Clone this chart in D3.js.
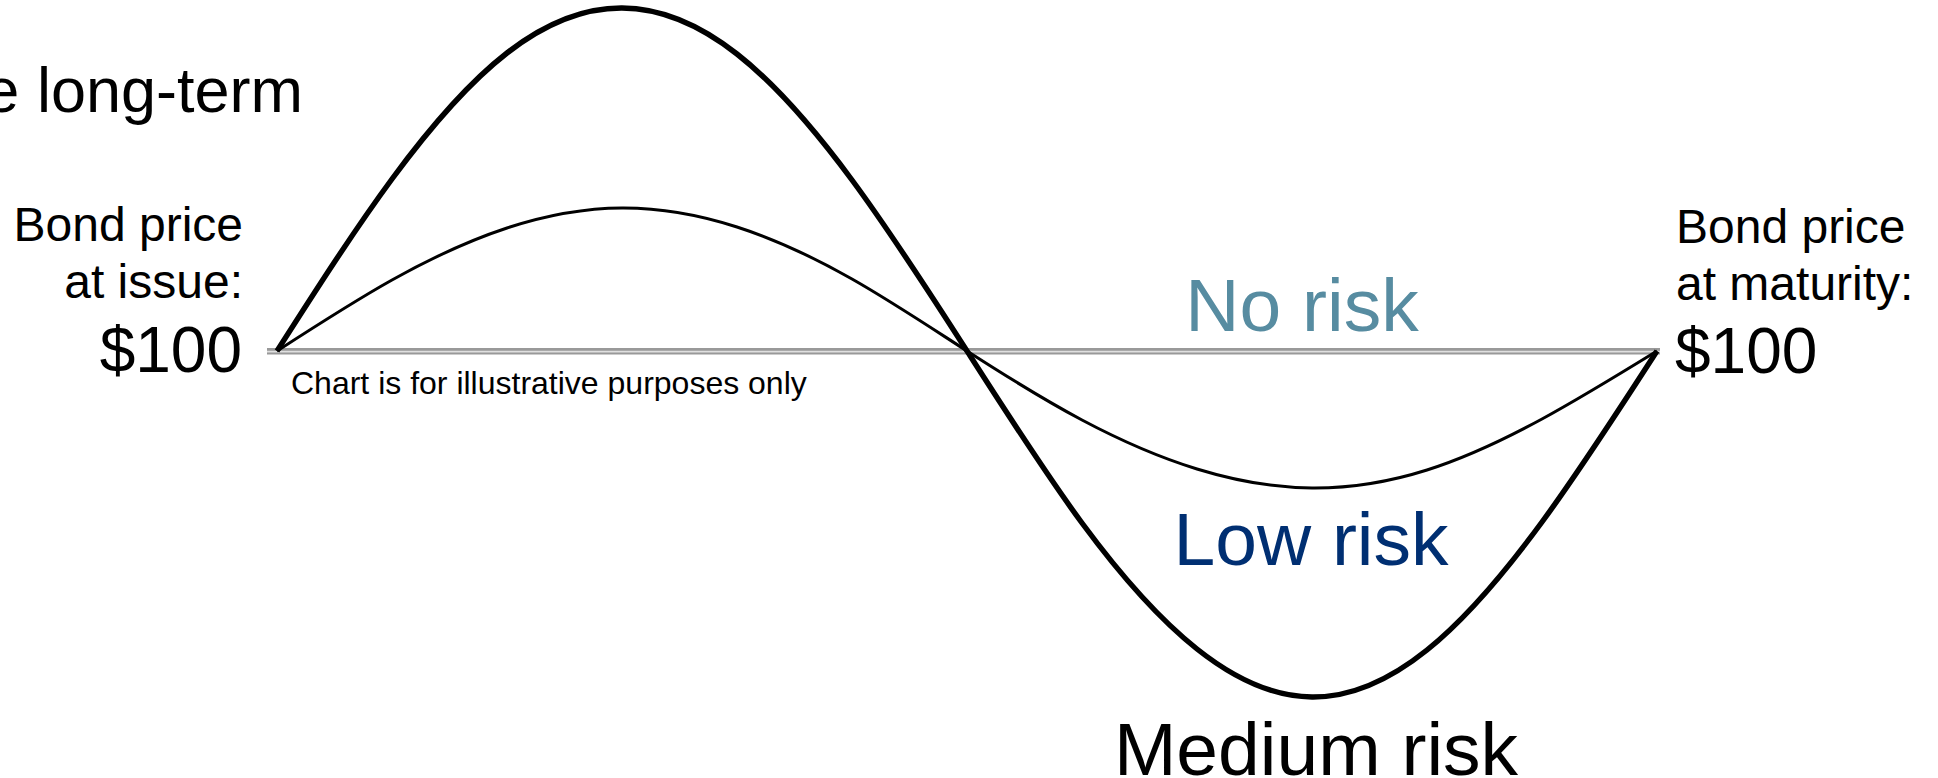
<!DOCTYPE html>
<html>
<head>
<meta charset="utf-8">
<script src="https://cdn.jsdelivr.net/npm/d3@7/dist/d3.min.js"></script>
<style>
  html, body { margin: 0; padding: 0; background: #ffffff; overflow: hidden; }
  svg { display: block; font-family: "Liberation Sans", Arial, Helvetica, sans-serif; }
</style>
</head>
<body>
<svg id="chart" width="1938" height="778"></svg>
<script>
// Time steps across the bond's life (issue = 0, maturity = 12)
const steps = [0, 1, 2, 3, 4, 5, 6, 7, 8, 9, 10, 11, 12];

// Illustrative bond price paths
const mediumRisk = [100, 117.2, 129.8, 134.3, 129.7, 117.1, 100, 82.8, 70.2, 65.4, 70.1, 82.9, 100];
const lowRisk    = [100, 107.1, 112.3, 114.3, 112.4, 107.2, 100, 93.1, 88.2, 86.3, 88.1, 93.2, 100];
const noRisk     = [100, 100];

// Text
const titleText = "e long-term";
const issueLines = ["Bond price", "at issue:"];
const maturityLines = ["Bond price", "at maturity:"];
const priceLabel = "$100";
const seriesLabels = ["No risk", "Low risk", "Medium risk"];
const noteText = "Chart is for illustrative purposes only";

const svg = d3.select("#chart");

const x = d3.scaleLinear().domain([0, 12]).range([277, 1657]);
const y = d3.scaleLinear().domain([65, 135]).range([701, 1]);

// No-risk line: a flat double rule at the issue price
const baseY = y(noRisk[0]);
const x0 = x(steps[0]) - 10, x1 = x(steps[steps.length - 1]) + 3;
svg.append("line").attr("x1", x0).attr("x2", x1)
  .attr("y1", baseY + 0.3).attr("y2", baseY + 0.3)
  .attr("stroke", "#999999").attr("stroke-width", 6.5);
svg.append("line").attr("x1", x0).attr("x2", x1)
  .attr("y1", baseY + 0.6).attr("y2", baseY + 0.6)
  .attr("stroke", "#e0e0e0").attr("stroke-width", 1.6);

const line = d3.line()
  .x((d, i) => x(steps[i]))
  .y(d => y(d))
  .curve(d3.curveNatural);

svg.append("path").datum(lowRisk)
  .attr("d", line)
  .attr("fill", "none")
  .attr("stroke", "#000")
  .attr("stroke-width", 3)
  .attr("stroke-linejoin", "round");

svg.append("path").datum(mediumRisk)
  .attr("d", line)
  .attr("fill", "none")
  .attr("stroke", "#000")
  .attr("stroke-width", 5.4)
  .attr("stroke-linejoin", "round");

// Title fragment
svg.append("text")
  .attr("x", 303).attr("y", 112)
  .attr("text-anchor", "end")
  .attr("font-size", 63)
  .attr("fill", "#000")
  .text(titleText);

// Issue label (left)
const left = svg.append("g").attr("text-anchor", "end").attr("fill", "#000");
issueLines.forEach((t, i) => {
  left.append("text").attr("x", 243).attr("y", 241 + i * 57)
    .attr("font-size", 48).text(t);
});
left.append("text").attr("x", 242).attr("y", 372)
  .attr("font-size", 64).text(priceLabel);

// Maturity label (right)
const right = svg.append("g").attr("text-anchor", "start").attr("fill", "#000");
maturityLines.forEach((t, i) => {
  right.append("text").attr("x", 1676).attr("y", 243 + i * 57)
    .attr("font-size", 48).text(t);
});
right.append("text").attr("x", 1675).attr("y", 373)
  .attr("font-size", 64).text(priceLabel);

// Series labels
svg.append("text").attr("x", 1302).attr("y", 331)
  .attr("text-anchor", "middle").attr("font-size", 75)
  .attr("fill", "#578ca1").text(seriesLabels[0]);
svg.append("text").attr("x", 1311).attr("y", 565)
  .attr("text-anchor", "middle").attr("font-size", 75)
  .attr("fill", "#002f72").text(seriesLabels[1]);
svg.append("text").attr("x", 1316).attr("y", 775)
  .attr("text-anchor", "middle").attr("font-size", 75)
  .attr("fill", "#000").text(seriesLabels[2]);

// Footnote
svg.append("text").attr("x", 291).attr("y", 394)
  .attr("font-size", 32).attr("fill", "#000")
  .text(noteText);
</script>
</body>
</html>
